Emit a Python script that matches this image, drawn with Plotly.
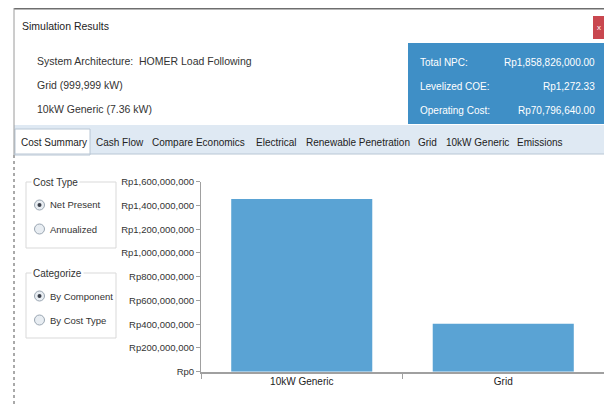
import plotly.graph_objects as go

# the page body keeps its default 8px margin; the figure is made small enough
# that the page does not overflow, and reference pixels are shifted by 8px
OFF = 8
W, H = 612 - 2 * OFF, 415 - 2 * OFF

# chart data
components = ["10kW Generic", "Grid"]
npc_values = [1455000000, 404000000]
ytick_vals = [0, 200e6, 400e6, 600e6, 800e6, 1000e6, 1200e6, 1400e6, 1600e6]
ytick_text = ["Rp0", "Rp200,000,000", "Rp400,000,000", "Rp600,000,000", "Rp800,000,000",
              "Rp1,000,000,000", "Rp1,200,000,000", "Rp1,400,000,000", "Rp1,600,000,000"]

# header / summary text
arch_rows = ["System Architecture:", "Grid (999,999 kW)", "10kW Generic (7.36 kW)"]
dispatch = "HOMER Load Following"
summary_labels = ["Total NPC:", "Levelized COE:", "Operating Cost:"]
summary_values = ["Rp1,858,826,000.00", "Rp1,272.33", "Rp70,796,640.00"]
tabs = ["Cost Summary", "Cash Flow", "Compare Economics", "Electrical", "Renewable Penetration",
        "Grid", "10kW Generic", "Emissions"]
tab_x = [19, 94, 150, 254, 304, 416, 444, 515]

FONT = "Liberation Sans, Arial, sans-serif"
TXT = "#333333"


def fx(p):
    return (p - OFF) / W


def fy(p):
    return 1 - (p - OFF) / H


shapes = []
annots = []


def rect(x0, y0, x1, y1, fill, line=None, lw=1, dash=None):
    shapes.append(dict(type="rect", xref="paper", yref="paper", x0=fx(x0), x1=fx(x1),
                       y0=fy(y1), y1=fy(y0), fillcolor=fill,
                       line=dict(color=line or "rgba(0,0,0,0)", width=lw if line else 0, dash=dash),
                       layer="below"))


def hline(x0, x1, y, color, lw=1):
    shapes.append(dict(type="line", xref="paper", yref="paper", x0=fx(x0), x1=fx(x1),
                       y0=fy(y), y1=fy(y), line=dict(color=color, width=lw)))


def vline(x, y0, y1, color, lw=1, dash=None):
    shapes.append(dict(type="line", xref="paper", yref="paper", x0=fx(x), x1=fx(x),
                       y0=fy(y0), y1=fy(y1), line=dict(color=color, width=lw, dash=dash)))


def text(x, y, s, size=10, color=TXT, anchor="left", bg=None):
    annots.append(dict(xref="paper", yref="paper", x=fx(x), y=fy(y), text=s, showarrow=False,
                       xanchor=anchor, yanchor="middle", font=dict(family=FONT, size=size, color=color),
                       bgcolor=bg, borderpad=1))


RIGHT = OFF + W  # right edge of the drawable page

# window frame
hline(14, RIGHT, 8.5, "#6e6e6e", 2)
vline(14, 8, 155, "#9a9a9a")
vline(14, 155, OFF + H, "#555555", 1, "dot")
text(20, 26, "Simulation Results", 10.5, "#222222")

# close button
rect(RIGHT - 11, 16, RIGHT, 39, "#c9474f")
text(RIGHT - 5.5, 27.5, "x", 8, "white", "center")

# architecture text
for i, a in enumerate(arch_rows):
    text(35, 61 + i * 24, a, 10.5)
text(137, 61, dispatch, 10.5)

# blue summary panel
rect(408, 43, RIGHT, 124, "#3f8fc6")
for i, (lab, val) in enumerate(zip(summary_labels, summary_values)):
    text(418, 62 + i * 24, lab, 10, "white")
    text(597, 62 + i * 24, val, 10, "white", "right")

# tab strip
rect(14, 125, RIGHT, 154, "#dfe9f3")
hline(14, RIGHT, 154, "#b8c6d4")
rect(15, 129, 90, 155, "white", "#b8c6d4")
for t, x in zip(tabs, tab_x):
    text(x, 142, t, 10, "#222222")

# option groups
rect(26, 182, 116, 248, "rgba(0,0,0,0)", "#d9d9d9")
text(31, 182, "Cost Type", 10, TXT, "left", "white")
rect(26, 273, 116, 338, "rgba(0,0,0,0)", "#d9d9d9")
text(31, 273, "Categorize", 10, TXT, "left", "white")
for (y, lab, sel) in [(205, "Net Present", True), (229, "Annualized", False),
                      (296, "By Component", True), (320, "By Cost Type", False)]:
    shapes.append(dict(type="circle", xref="paper", yref="paper", x0=fx(34.5), x1=fx(44.5),
                       y0=fy(y + 5), y1=fy(y - 5), fillcolor="#e8edf2",
                       line=dict(color="#9aa6b2", width=1)))
    if sel:
        shapes.append(dict(type="circle", xref="paper", yref="paper", x0=fx(37.5), x1=fx(41.5),
                           y0=fy(y + 2), y1=fy(y - 2), fillcolor="#3a3f4a",
                           line=dict(width=0)))
    text(48, y, lab, 9.5)

fig = go.Figure(go.Bar(x=components, y=npc_values, marker=dict(color="#5aa3d4", line=dict(width=0)),
                       width=0.7))

fig.update_layout(
    width=W, height=H, margin=dict(l=0, r=0, t=0, b=0, autoexpand=False),
    paper_bgcolor="white", plot_bgcolor="white",
    showlegend=False, shapes=shapes, annotations=annots,
    font=dict(family=FONT, size=10, color=TXT),
    xaxis=dict(domain=[fx(201), fx(RIGHT)], showline=True, linecolor="#a0a0a0", linewidth=1.5,
               ticks="outside", tickson="boundaries", ticklen=6, tickcolor="#a0a0a0",
               showgrid=False, automargin=False, tickfont=dict(size=10, color="#222222")),
    yaxis=dict(domain=[fy(371.7), fy(181.7)], range=[0, 1.6e9], tickvals=ytick_vals,
               ticktext=ytick_text, showline=True, linecolor="#a0a0a0", linewidth=1,
               ticks="outside", ticklen=4, tickcolor="#a0a0a0", showgrid=False, zeroline=False,
               automargin=False, tickfont=dict(size=9.5, color="#333333")),
)

fig.write_html("out.html")
